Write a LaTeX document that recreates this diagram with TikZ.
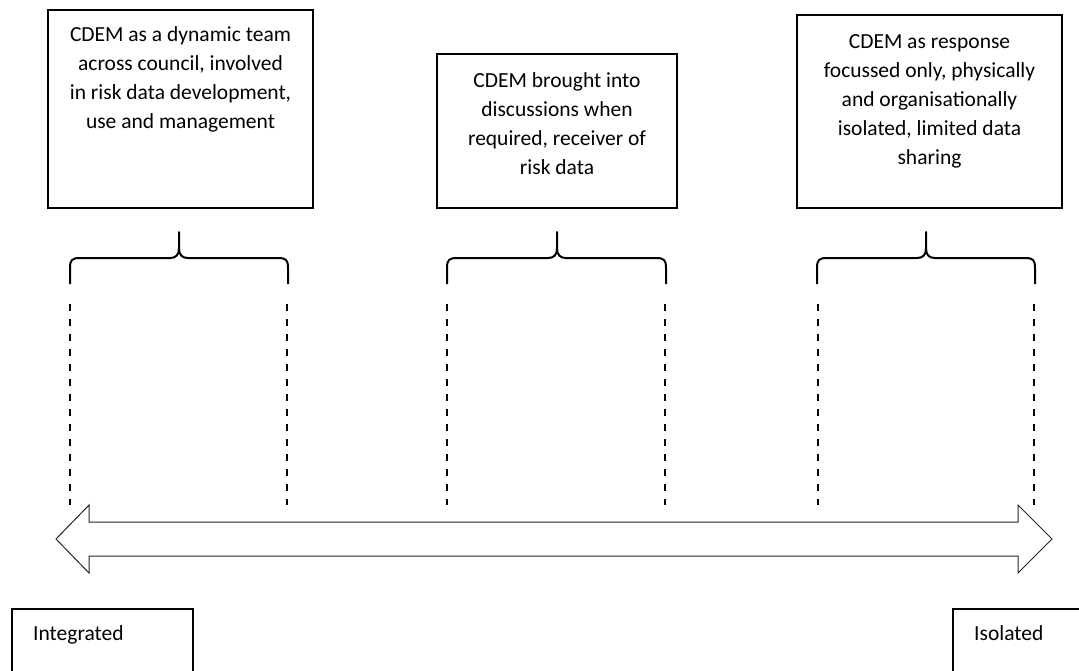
\documentclass[tikz,border=0pt]{standalone}
\usepackage{fontspec}
\setmainfont{Carlito}
\begin{document}
\begin{tikzpicture}[x=1pt,y=-1pt,
  box/.style={draw=black, line width=2pt, inner sep=0pt, outer sep=0pt, anchor=north west},
  boxtext/.style={font=\fontsize{21.5}{29}\selectfont, align=center, inner sep=0pt, anchor=base},
  labeltext/.style={font=\fontsize{21.5}{29}\selectfont, inner sep=0pt, anchor=base west},
  bracket/.style={line width=2pt, line join=round},
  guide/.style={line width=2pt, dash pattern=on 7pt off 8pt},
  band/.style={draw=black!85, line width=1pt, fill=white, line join=miter}]
\useasboundingbox (0,0) rectangle (1079,670);
\clip (0,0) rectangle (1079,670);

% curly bracket: left end, tip, right end
\newcommand\curlybracket[3]{%
  \draw[bracket] (#1,284) -- (#1,268)
    .. controls (#1,260) and (#1+2,258) .. (#1+10,258)
    -- (#2-9,258) .. controls (#2-3,258) and (#2,255) .. (#2,248) -- (#2,232)
    -- (#2,248) .. controls (#2,255) and (#2+3,258) .. (#2+9,258)
    -- (#3-10,258) .. controls (#3-2,258) and (#3,260) .. (#3,268) -- (#3,284);}

% description boxes
\node[box, minimum width=265, minimum height=198] (b1) at (48,10) {};
\node[box, minimum width=240, minimum height=154] (b2) at (437,54) {};
\node[box, minimum width=265, minimum height=193] (b3) at (797,15) {};

% texts are placed by the baseline of their last line
\node[boxtext] (t1) at (180.5,128) {CDEM as a dynamic team\\across council, involved\\in risk data development,\\use and management};
\node[boxtext] (t2) at (557,174) {CDEM brought into\\discussions when\\required, receiver of\\risk data};
\node[boxtext] (t3) at (929.5,164) {CDEM as response\\focussed only, physically\\and organisationally\\isolated, limited data\\sharing};

% brackets
\curlybracket{70}{179}{288}
\curlybracket{447}{557}{666}
\curlybracket{817}{926}{1035}

% dashed guides
\foreach \gx in {70,287,447,665,818,1034}
  \draw[guide] (\gx,304) -- (\gx,505);

% double-headed scale arrow
\draw[band] (56,539) -- (89,505) -- (89,522) -- (1018,522) -- (1018,505)
  -- (1052,539) -- (1018,573) -- (1018,556) -- (89,556) -- (89,573) -- cycle;

% end labels
\node[box, minimum width=181, minimum height=90] (integ) at (12,609) {};
\node[box, minimum width=160, minimum height=90] (isol) at (953,609) {};
\node[labeltext] (integt) at (33,640) {Integrated};
\node[labeltext] (isolt) at (974,640) {Isolated};
\end{tikzpicture}
\end{document}
